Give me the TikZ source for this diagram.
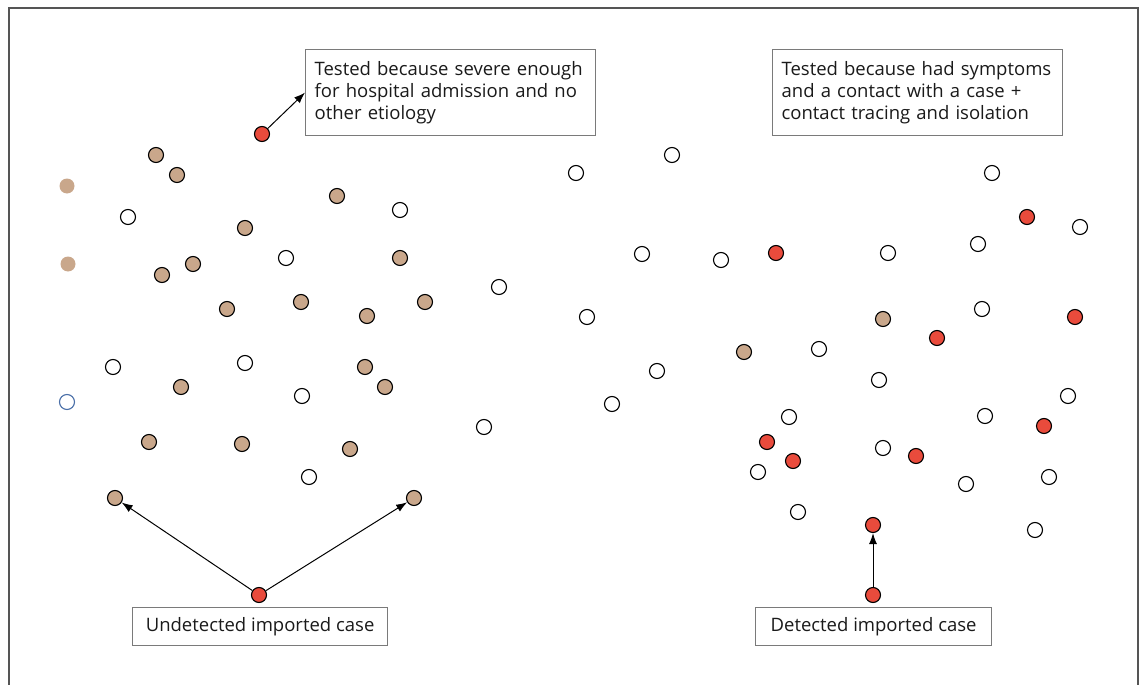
\documentclass[tikz,border=0pt]{standalone}
\usepackage{fontspec}
\newfontfamily\boxfont{Open Sans}
\usetikzlibrary{arrows.meta}

\definecolor{ctan}{HTML}{C9A78B}
\definecolor{cred}{HTML}{E94B3C}
\definecolor{cblue}{HTML}{4A6FA8}
\definecolor{boxgray}{HTML}{7A7A7A}
\definecolor{framegray}{HTML}{555555}
\definecolor{textgray}{HTML}{1A1A1A}

\tikzset{
	case/.style={circle, draw=black, line width=1.1pt, minimum size=15pt, inner sep=0pt},
	cfree/.style={case, fill=white},
	cundet/.style={case, fill=ctan},
	cdet/.style={case, fill=cred},
	cghost/.style={circle, draw=none, fill=ctan, minimum size=15pt, inner sep=0pt},
	cblank/.style={circle, draw=cblue, line width=1.1pt, fill=white, minimum size=15pt, inner sep=0pt},
	textbox/.style={draw=boxgray, line width=1.2pt, fill=white, inner xsep=9pt, inner ysep=5pt,
		text=textgray, font=\boxfont\fontsize{18.5}{22}\selectfont},
	link/.style={-{Latex[length=11pt,width=8pt]}, line width=1pt, black}
}

\begin{document}
\begin{tikzpicture}[x=1pt, y=-1pt]
		
		\useasboundingbox (0,0) rectangle (1144,685);
		
		% FRAME
		\draw[framegray, line width=1.5pt] (9,685) -- (9,8) -- (1138,8) -- (1138,685);
		
		% LEGEND BOXES
		\node[textbox, anchor=north west, text width=272pt, minimum height=86pt, align=left] (severe) at (305,49)
			{Tested because severe enough\\for hospital admission and no\\other etiology};
		\node[textbox, anchor=north west, text width=272pt, minimum height=86pt, align=left] (contact) at (772,49)
			{Tested because had symptoms\\and a contact with a case +\\contact tracing and isolation};
		\node[textbox, anchor=north west, minimum width=255pt, minimum height=38pt] (undetbox) at (132,607)
			{Undetected imported case};
		\node[textbox, anchor=north west, minimum width=236pt, minimum height=38pt] (detbox) at (755,607)
			{Detected imported case};
		
		% LEFT GROUP
		\foreach \x/\y [count=\i] in {128/217, 286/258, 400/210, 499/287, 113/367, 245/363,
			302/396, 309/477, 484/427}{
			\node[cfree] (lw\i) at (\x,\y) {};
		}
		\foreach \x/\y [count=\i] in {156/155, 177/175, 245/228, 337/196, 162/275, 193/264,
			400/258, 227/309, 301/302, 367/316, 425/302, 181/387, 365/367, 385/387,
			149/442, 242/444, 350/449}{
			\node[cundet] (lt\i) at (\x,\y) {};
		}
		\node[cghost] (g1) at (67,186) {};
		\node[cghost] (g2) at (68,264) {};
		\node[cblank] (b1) at (67,402) {};
		
		\node[cdet] (severecase) at (262,134) {};
		\node[cundet] (spreadl) at (115,498) {};
		\node[cundet] (spreadr) at (414,498) {};
		\node[cdet] (undet) at (259,595) {};
		
		% RIGHT GROUP
		\foreach \x/\y [count=\i] in {576/173, 672/155, 642/254, 721/260, 587/317, 657/371,
			612/404, 819/349, 992/173, 1080/227, 978/244, 888/253, 982/309, 879/380,
			789/417, 985/416, 1068/396, 883/448, 758/472, 966/484, 1049/477, 798/512,
			1035/530}{
			\node[cfree] (rw\i) at (\x,\y) {};
		}
		\foreach \x/\y [count=\i] in {776/253, 1027/217, 1075/317, 937/338, 1044/426,
			767/442, 793/461, 916/456}{
			\node[cdet] (rr\i) at (\x,\y) {};
		}
		\node[cundet] (rt1) at (744,352) {};
		\node[cundet] (rt2) at (883,319) {};
		
		\node[cdet] (spreadd) at (873,525) {};
		\node[cdet] (det) at (873,595) {};
		
		% ARROWS
		\draw[link] (severecase) -- (severe.west);
		\draw[link] (undet) -- (spreadl);
		\draw[link] (undet) -- (spreadr);
		\draw[link] (det) -- (spreadd);
		
\end{tikzpicture}
\end{document}
